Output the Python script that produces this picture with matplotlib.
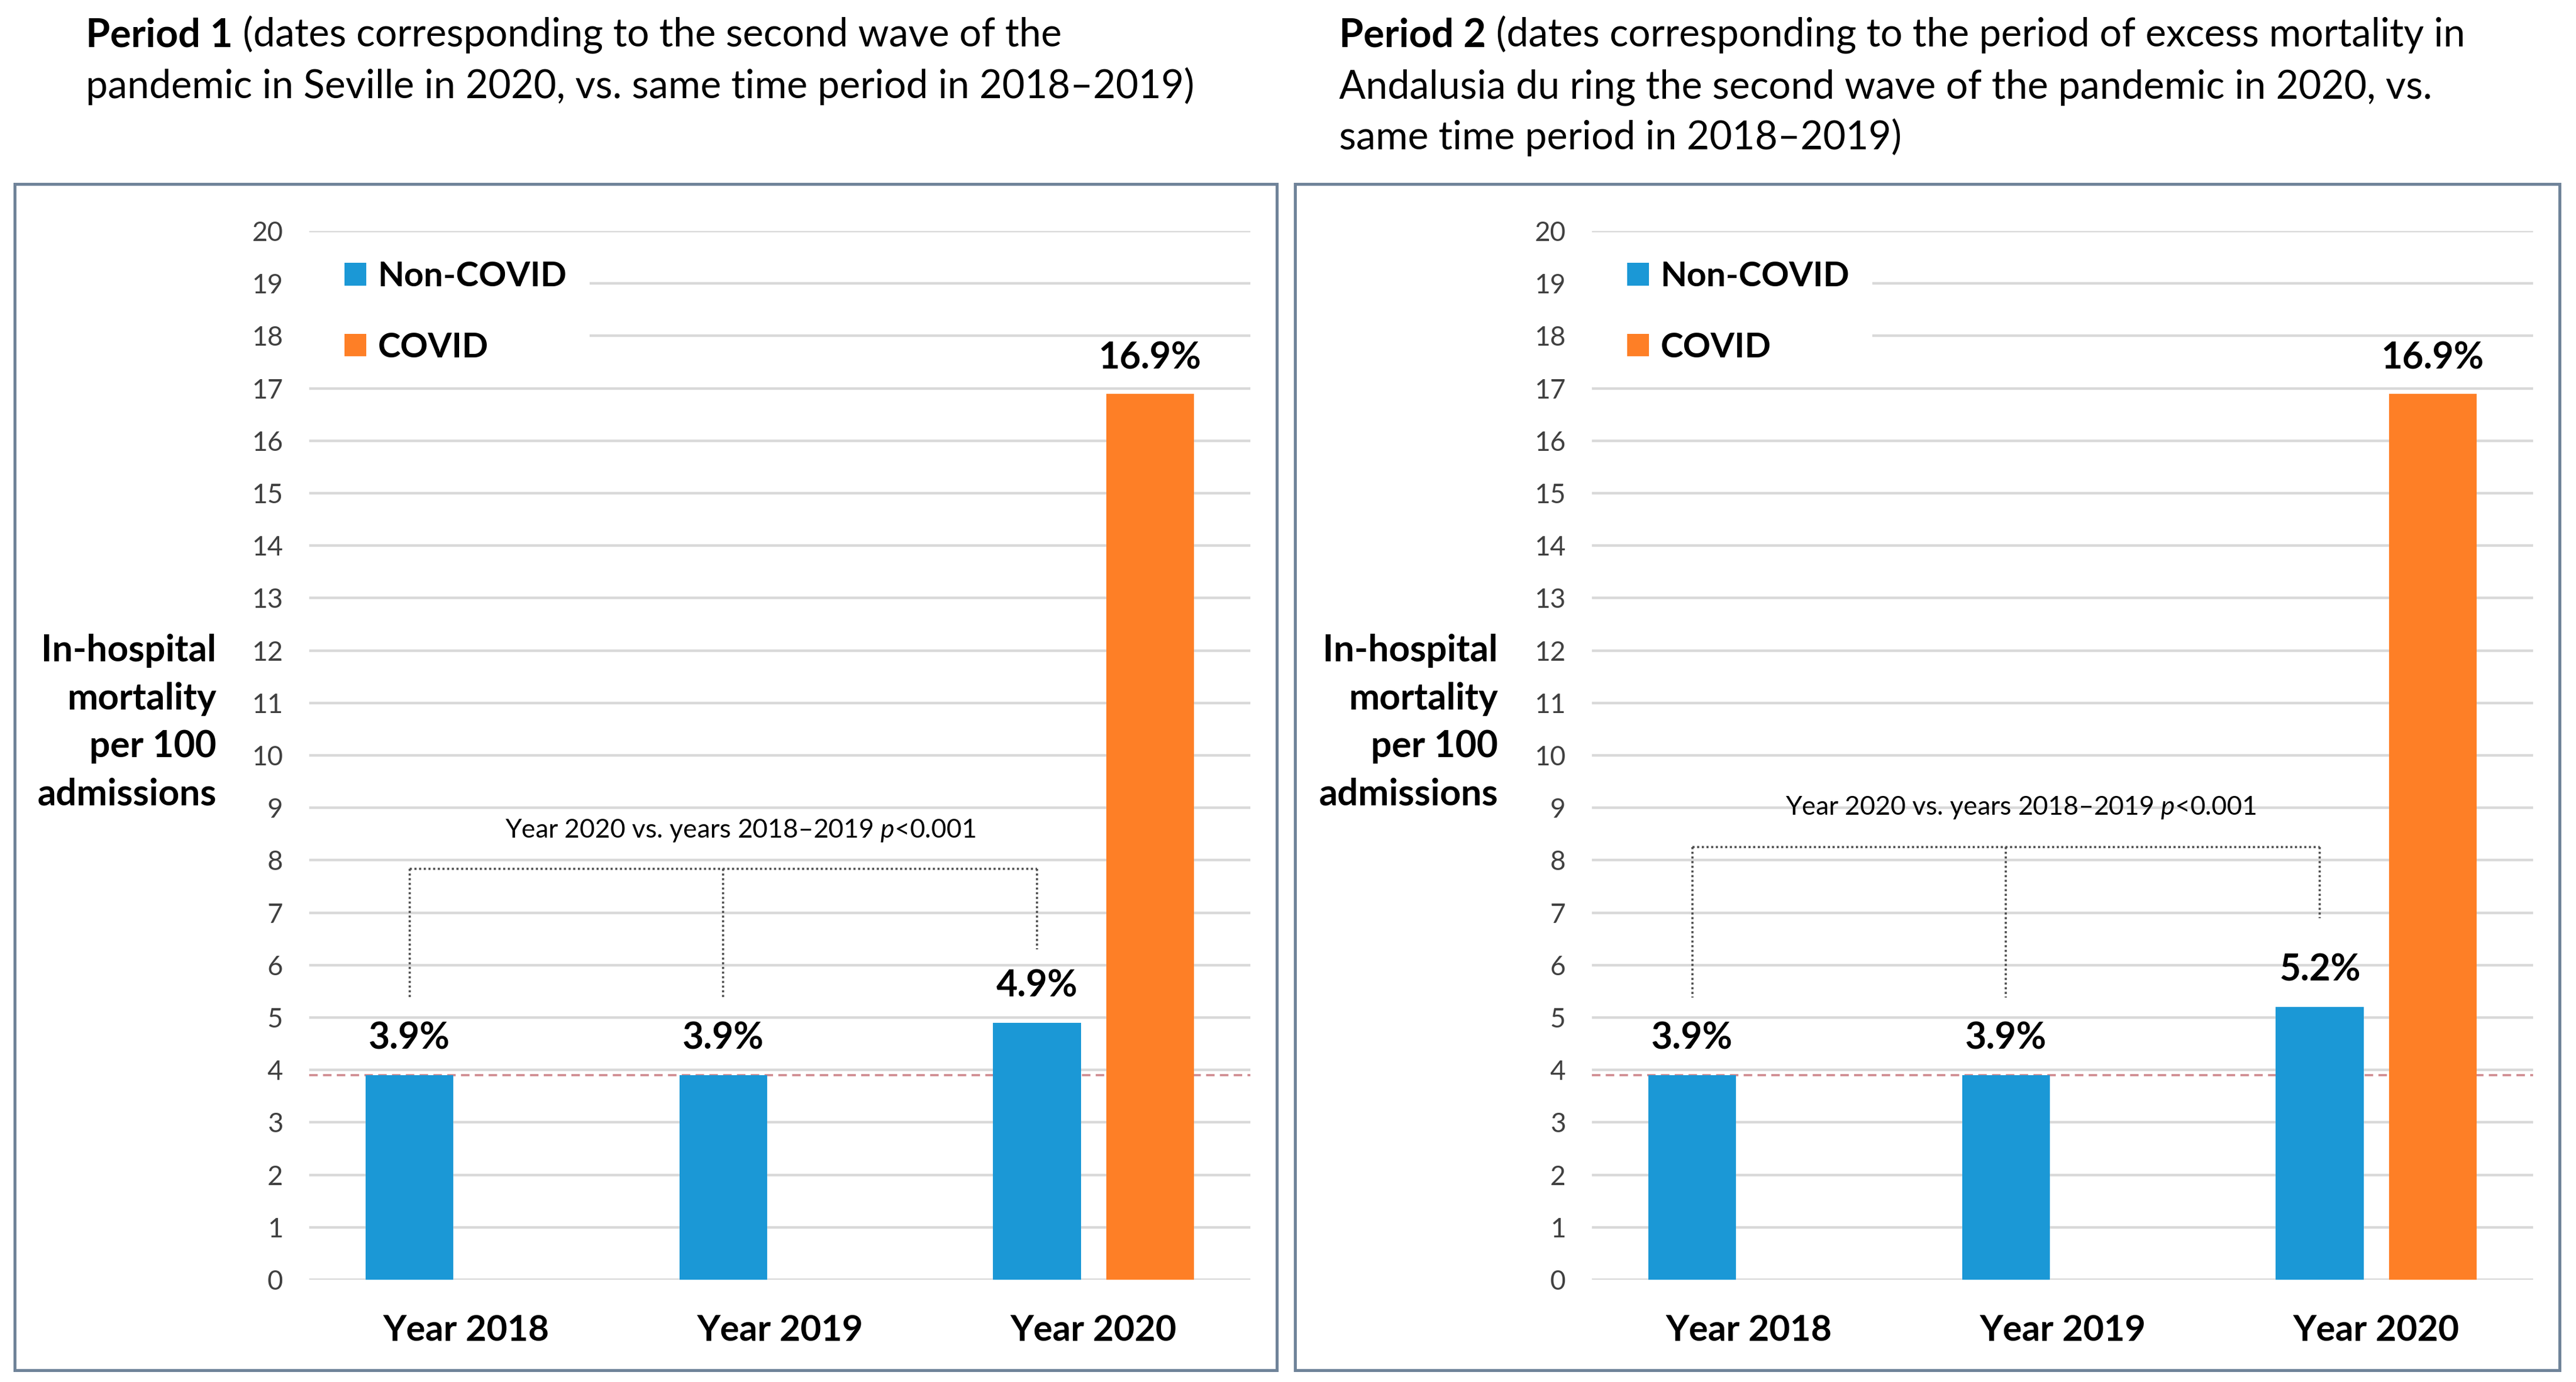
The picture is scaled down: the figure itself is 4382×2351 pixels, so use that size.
import matplotlib
matplotlib.use("Agg")
import matplotlib.pyplot as plt
import numpy as np
from matplotlib.patches import Rectangle

# ---------------- data ----------------
years = ["Year 2018", "Year 2019", "Year 2020"]
p1_noncovid = [3.9, 3.9, 4.9]
p1_covid = [np.nan, np.nan, 16.9]
p2_noncovid = [3.9, 3.9, 5.2]
p2_covid = [np.nan, np.nan, 16.9]
baseline_rate = 3.9
yticks = list(range(0, 21))
series_names = ["Non-COVID", "COVID"]
p_text = r"Year 2020 vs. years 2018–2019 $\mathit{p}$<0.001"

p1_title = ["Period 1", " (dates corresponding to the second wave of the",
            "pandemic in Seville in 2020, vs. same time period in 2018–2019)"]
p2_title = ["Period 2", " (dates corresponding to the period of excess mortality in",
            "Andalusia du ring the second wave of the pandemic in 2020, vs.",
            "same time period in 2018–2019)"]
ylabel_lines = ["In-hospital", "mortality", "per 100", "admissions"]

# ---------------- style ----------------
plt.rcParams['font.family'] = ['Lato', 'DejaVu Sans']
plt.rcParams['mathtext.fontset'] = 'custom'
plt.rcParams['mathtext.rm'] = 'Lato'
plt.rcParams['mathtext.it'] = 'Lato:italic'

BLUE = '#1b98d6'
ORANGE = '#fe7f26'
GRID = '#d9d9d9'
BOX = '#6f8399'

W, H = 4382, 2351
DPI = 200
fig = plt.figure(figsize=(W / DPI, H / DPI), dpi=DPI)
fig.patch.set_facecolor('white')

def fx(px):
    return px / W

def fy(py):
    return 1 - py / H

# panel boxes
for (x0, x1) in [(25, 2172), (2203, 4354)]:
    fig.add_artist(Rectangle((fx(x0), fy(2331)), fx(x1) - fx(x0), fy(313) - fy(2331),
                             transform=fig.transFigure, fill=False,
                             edgecolor=BOX, linewidth=1.8, zorder=0))

def draw_panel(ax_left_px, noncovid, covid, bracket_y, drops, ptext_xy,
               ylabel_right_px):
    ax = fig.add_axes([fx(ax_left_px), fy(2177), 1601 / W, 1784 / H])
    x = np.arange(len(years))
    off = 0.18
    bw = 0.28
    b1 = ax.bar(x - off, noncovid, bw, color=BLUE, zorder=3, label=series_names[0])
    b2 = ax.bar(x + off, covid, bw, color=ORANGE, zorder=3, label=series_names[1])
    ax.set_xlim(-0.5, 2.5)
    ax.set_ylim(0, 20)
    ax.set_yticks(yticks)
    ax.set_yticklabels([str(t) for t in yticks])
    ax.set_xticks(x)
    ax.set_xticklabels(years, fontsize=22, fontweight='bold')
    ax.tick_params(axis='y', length=0, pad=16, labelsize=16.5, labelcolor='#404040')
    ax.tick_params(axis='x', length=0, pad=21)
    for s in ax.spines.values():
        s.set_visible(False)
    ax.yaxis.grid(True, color=GRID, linewidth=1.6, zorder=0)
    ax.set_axisbelow(True)
    ax.axhline(baseline_rate, color='#cf8a8f', linewidth=1.3, dashes=(4, 2.5), zorder=2)

    # value labels
    for xi, v in zip(x - off, noncovid):
        if not np.isnan(v):
            ax.annotate(f"{v:.1f}%", (xi, v), xytext=(0, 16), textcoords='offset points',
                        ha='center', va='baseline', fontsize=22.5, fontweight='bold')
    for xi, v in zip(x + off, covid):
        if not np.isnan(v):
            ax.annotate(f"{v:.1f}%", (xi, v), xytext=(0, 15), textcoords='offset points',
                        ha='center', va='baseline', fontsize=22.5, fontweight='bold')

    # bracket
    bx = x - off
    ax.plot([bx[0], bx[-1]], [bracket_y, bracket_y], linestyle=(0, (1, 1.2)),
            color='#4d4d4d', linewidth=1.3, zorder=4)
    for xi, d in zip(bx, drops):
        ax.plot([xi, xi], [bracket_y, d], linestyle=(0, (1, 1.2)),
                color='#4d4d4d', linewidth=1.3, zorder=4)
    ax.text(ptext_xy[0], ptext_xy[1], p_text, ha='center', va='center', fontsize=16,
            zorder=5)

    # legend area (white cover over gridlines)
    ax.add_patch(Rectangle((-0.5, 17.35), 0.894, 2.35, facecolor='white',
                           edgecolor='none', zorder=1))
    ax.legend(handles=[b1, b2], loc='upper left', bbox_to_anchor=(0.0375, 0.9715),
              frameon=False, borderpad=0, borderaxespad=0,
              handlelength=0.64, handleheight=0.64, handletextpad=0.33,
              labelspacing=1.16, prop={'weight': 'bold', 'size': 21})

    # y label lines
    for yy, line in zip([1107, 1189, 1270, 1351], ylabel_lines):
        fig.text(fx(ylabel_right_px), fy(yy), line, ha='right', va='center',
                 fontsize=22.5, fontweight='bold')
    return ax

draw_panel(526, p1_noncovid, p1_covid, 7.84, [5.37, 5.37, 6.3], (0.875, 8.56), 368)
draw_panel(2708, p2_noncovid, p2_covid, 8.25, [5.38, 5.38, 6.9], (0.866, 9.0), 2548)

# titles
def title(x_px, lines, baselines):
    t = fig.text(fx(x_px), fy(baselines[0]), lines[0], ha='left', va='baseline',
                 fontsize=24, fontweight='bold')
    fig.canvas.draw()
    bb = t.get_window_extent()
    fig.text(bb.x1 / W, fy(baselines[0]), lines[1], ha='left', va='baseline', fontsize=24)
    for line, b in zip(lines[2:], baselines[1:]):
        fig.text(fx(x_px), fy(b), line, ha='left', va='baseline', fontsize=24)

title(146, p1_title, [80, 167])
title(2278, p2_title, [80, 167, 254])

fig.savefig("out.png", dpi=DPI, facecolor='white')
